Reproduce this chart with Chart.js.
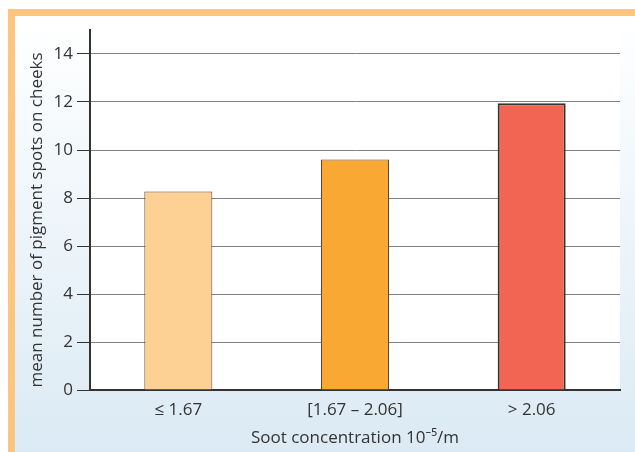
<!DOCTYPE html>
<html>
<head>
<meta charset="utf-8">
<script src="https://cdn.jsdelivr.net/npm/chart.js@4"></script>
<style>
  html, body { margin: 0; padding: 0; background: #fff; }
  #wrap { width: 635px; height: 452px; position: relative; }
</style>
</head>
<body>
<div id="wrap"><canvas id="myChart" width="635" height="452"></canvas></div>
<script>
const categories = ['≤ 1.67', '[1.67 – 2.06]', '> 2.06'];
const spotValues = [8.27, 9.6, 11.95];
const yTickValues = [0, 2, 4, 6, 8, 10, 12, 14];
const barColors = ['#fdd093', '#f9a833', '#f26552'];
const yTitle = 'mean number of pigment spots on cheeks';
const xTitle = 'Soot concentration 10⁻⁵/m';

// frame, gradient and white plot box behind everything
const backgroundPlugin = {
  id: 'background',
  beforeDraw(chart) {
    const ctx = chart.ctx;
    const area = chart.chartArea;
    ctx.save();
    ctx.fillStyle = '#fff';
    ctx.fillRect(0, 0, chart.width, chart.height);
    let grad = ctx.createLinearGradient(0, 16, 0, chart.height);
    grad.addColorStop(0, '#ffffff');
    grad.addColorStop(1, '#dbeaf4');
    ctx.fillStyle = grad;
    ctx.fillRect(15, 16, chart.width - 15, chart.height - 16);
    ctx.fillStyle = '#fdc580';
    ctx.fillRect(8, 9, chart.width - 8, 7);
    ctx.fillRect(8, 9, 7, chart.height - 9);
    ctx.fillStyle = '#fff';
    ctx.fillRect(area.left, 16, area.right - area.left, area.bottom - 16);
    ctx.restore();
  }
};

// y title sits a bit lower than the axis centre in the original
const yTitlePlugin = {
  id: 'yTitle',
  afterDraw(chart) {
    const ctx = chart.ctx;
    const area = chart.chartArea;
    ctx.save();
    ctx.translate(37, (area.top + area.bottom) / 2 + 10);
    ctx.rotate(-Math.PI / 2);
    ctx.font = '17px "Open Sans", "Noto Sans", sans-serif';
    ctx.fillStyle = '#333';
    ctx.textAlign = 'center';
    ctx.textBaseline = 'middle';
    ctx.fillText(yTitle, 0, 0);
    ctx.restore();
  }
};

Chart.defaults.font.family = '"Open Sans", "Noto Sans", sans-serif';
Chart.defaults.color = '#333';

const data = {
  labels: categories,
  datasets: [{
    data: spotValues,
    backgroundColor: barColors,
    borderColor: ['#5a4632', '#5a4632', '#333'],
    borderWidth: [1, 1, 2],
    borderSkipped: 'bottom',
    categoryPercentage: 1,
    barPercentage: 0.385
  }]
};

const config = {
  type: 'bar',
  data: data,
  plugins: [backgroundPlugin, yTitlePlugin],
  options: {
    responsive: false,
    animation: false,
    layout: { padding: { left: 15, right: 15, top: 30, bottom: 0 } },
    plugins: { legend: { display: false }, tooltip: { enabled: false } },
    scales: {
      x: {
        afterFit: scale => { scale.height = 62; },
        grid: { drawOnChartArea: false, drawTicks: false },
        border: { display: true, color: '#333', width: 2 },
        ticks: { font: { size: 17 }, color: '#333', padding: 10 },
        title: { display: true, text: xTitle, font: { size: 17 }, color: '#333', padding: { top: 0 } }
      },
      y: {
        min: 0,
        max: 15,
        afterFit: scale => { scale.width = 75; },
        afterBuildTicks: scale => { scale.ticks = yTickValues.map(v => ({ value: v })); },
        grid: { color: '#808080', tickColor: '#333', tickLength: 13, lineWidth: 1 },
        border: { display: true, color: '#333', width: 2 },
        ticks: { font: { size: 17 }, color: '#333', padding: 4 }
      }
    }
  }
};

new Chart(document.getElementById('myChart'), config);
</script>
</body>
</html>
